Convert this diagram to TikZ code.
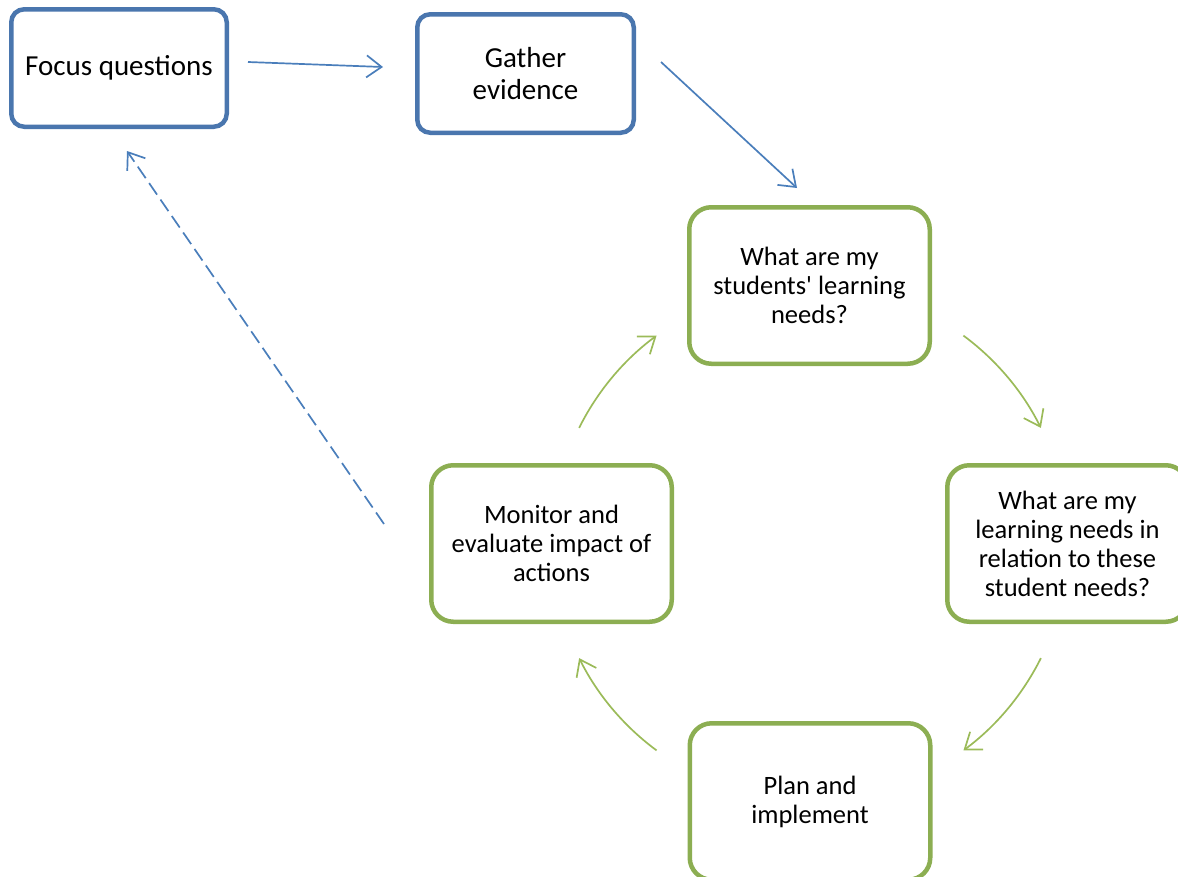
\documentclass[tikz,border=0pt]{standalone}
\usepackage{fontspec}
\setmainfont{Carlito}
\usetikzlibrary{arrows.meta,calc}
\definecolor{bluebd}{RGB}{74,118,174}
\definecolor{bluearr}{RGB}{74,126,187}
\definecolor{greenbd}{RGB}{140,174,82}
\definecolor{greenarr}{RGB}{155,187,89}
\newcommand{\sq}{{\XeTeXglyph\XeTeXcharglyph"27\relax}}
\tikzset{
  bluebox/.style={draw=bluebd, line width=4.5pt, rounded corners=13pt, fill=white, align=center, inner sep=0pt, font=\fontsize{29}{32}\selectfont},
  greenbox/.style={draw=greenbd, line width=4.5pt, rounded corners=22pt, fill=white, align=center, inner sep=0pt, minimum width=240.5pt, minimum height=156.5pt, font=\fontsize{26.5}{29}\selectfont},
  bluearrow/.style={draw=bluearr, line width=1.7pt, -{Straight Barb[length=15pt,width=22pt,line width=1.7pt]}},
  greenarrow/.style={draw=greenarr, line width=1.7pt, -{Straight Barb[length=15pt,width=22pt,line width=1.7pt]}},
}
\begin{document}
\begin{tikzpicture}[x=1pt,y=-1pt]
\useasboundingbox (0,0) rectangle (1178,876);
\clip (0,0) rectangle (1178,876);
\node[bluebox, minimum width=215.5pt, minimum height=117.5pt] (focus) at (119,68) {Focus questions};
\node[bluebox, minimum width=216.5pt, minimum height=118.5pt] (gather) at (525.5,73.5) {Gather\\evidence};
\node[greenbox] (students) at (809.5,285.5) {What are my\\students\sq{} learning\\needs?};
\node[greenbox] (mine) at (1067.5,543.5) {What are my\\learning needs in\\relation to these\\student needs?};
\node[greenbox] (plan) at (810,801.5) {Plan and\\implement};
\node[greenbox] (monitor) at (551.5,543.5) {Monitor and\\evaluate impact of\\actions};
% straight connectors
\coordinate (fg1) at (248,62);
\coordinate (fg2) at (383,67);
\coordinate (gs1) at (661,62);
\coordinate (gs2) at (797,188);
\coordinate (mf1) at (384,524);
\coordinate (mf2) at (127,151);
\draw[bluearrow] (fg1) -- (fg2);
\draw[bluearrow] (gs1) -- (gs2);
\draw[bluearrow, dash pattern=on 14pt off 6pt] (mf1) -- (mf2);
% cycle arcs
\coordinate (ctr) at (810,543);
\def\R{258}
\coordinate (c1) at ($(ctr)+(-53.5:\R)$);
\coordinate (c2) at ($(ctr)+(26.5:\R)$);
\coordinate (c3) at ($(ctr)+(126.5:\R)$);
\coordinate (c4) at ($(ctr)+(-153.5:\R)$);
\draw[greenarrow] (c1) arc[start angle=-53.5, end angle=-26.5, radius=\R];
\draw[greenarrow] (c2) arc[start angle=26.5, end angle=53.5, radius=\R];
\draw[greenarrow] (c3) arc[start angle=126.5, end angle=153.5, radius=\R];
\draw[greenarrow] (c4) arc[start angle=-153.5, end angle=-126.5, radius=\R];
\end{tikzpicture}
\end{document}
